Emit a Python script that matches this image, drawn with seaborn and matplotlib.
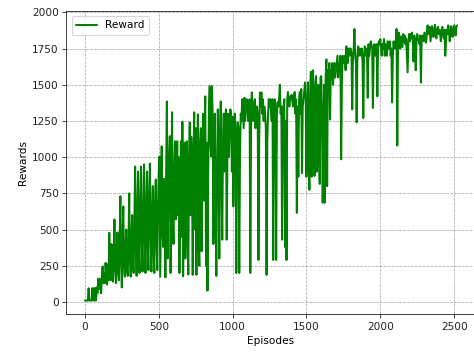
import matplotlib
matplotlib.use("Agg")
import matplotlib.pyplot as plt
import seaborn as sns
import pandas as pd

# Rewards, one value every 5 episodes (0 .. 2520)
rewards_0000 = [10, 10, 10, 10, 10, 95, 10, 10, 10, 10, 95, 10, 95, 10, 95, 10, 100, 60, 160, 90]
rewards_0100 = [160, 100, 60, 180, 245, 130, 200, 130, 270, 180, 120, 260, 150, 478, 200, 150, 400, 250, 140, 300]
rewards_0200 = [570, 250, 130, 350, 480, 200, 150, 400, 730, 300, 100, 450, 660, 250, 175, 380, 500, 220, 180, 420]
rewards_0300 = [750, 300, 175, 450, 600, 250, 200, 550, 935, 400, 180, 650, 900, 350, 200, 700, 935, 450, 210, 600]
rewards_0400 = [950, 500, 200, 650, 900, 400, 220, 750, 955, 500, 210, 600, 800, 350, 200, 700, 845, 400, 220, 650]
rewards_0500 = [900, 1004, 175, 600, 1075, 500, 380, 850, 600, 170, 900, 1385, 300, 700, 1000, 1145, 200, 800, 1310, 600]
rewards_0600 = [400, 900, 1110, 570, 800, 1110, 600, 1000, 200, 700, 1110, 450, 1245, 178, 900, 1100, 300, 800, 1110, 500]
rewards_0700 = [190, 1000, 1240, 600, 1140, 900, 187, 1000, 1310, 500, 1200, 187, 900, 1295, 400, 250, 1100, 1200, 350, 900]
rewards_0800 = [1300, 700, 1200, 1420, 250, 1100, 78, 900, 1350, 1490, 1100, 1005, 1490, 1300, 400, 1000, 1300, 600, 180, 900]
rewards_0900 = [1330, 1000, 300, 1200, 1385, 800, 430, 1100, 1300, 900, 1250, 1330, 430, 1000, 1300, 1000, 1200, 1330, 1280, 900]
rewards_1000 = [1280, 660, 1100, 1300, 1200, 200, 1100, 1240, 1200, 200, 1000, 1300, 1250, 1400, 1300, 1200, 1410, 1250, 1350, 1400]
rewards_1100 = [1350, 1250, 1300, 1400, 200, 1200, 1447, 1300, 1250, 1350, 1400, 1200, 1300, 1350, 1300, 290, 1100, 1447, 1350, 1447]
rewards_1200 = [1300, 1400, 1250, 1350, 1300, 1200, 187, 1100, 1300, 1400, 1350, 1400, 1300, 1250, 1400, 290, 1200, 1400, 1350, 290]
rewards_1300 = [1300, 1380, 1350, 1400, 1500, 1300, 1350, 430, 1200, 1350, 1400, 380, 1250, 290, 1400, 1450, 1380, 1350, 1420, 1400]
rewards_1400 = [1430, 1380, 1350, 1400, 1450, 1300, 1400, 615, 1350, 865, 1400, 1450, 1300, 1470, 890, 1350, 1400, 1450, 1515, 1400]
rewards_1500 = [865, 1300, 1517, 1000, 775, 1450, 1590, 865, 1400, 1600, 1100, 870, 1500, 1560, 900, 1400, 1500, 1000, 815, 1550]
rewards_1600 = [1560, 1300, 685, 1200, 1500, 685, 1550, 1675, 800, 1600, 1450, 1650, 1260, 1600, 1550, 1650, 1500, 1600, 1650, 1550]
rewards_1700 = [1600, 1650, 1700, 1550, 1650, 1600, 1700, 985, 1500, 1700, 1650, 1675, 1700, 1600, 1765, 1700, 1650, 1750, 1700, 1750]
rewards_1800 = [1750, 1700, 1330, 1700, 1750, 1885, 1700, 1650, 1240, 1700, 1765, 1700, 1750, 1720, 1700, 1750, 1650, 1270, 1700, 1765]
rewards_1900 = [1700, 1750, 1720, 1410, 1780, 1700, 1750, 1800, 1780, 1750, 1340, 1700, 1780, 1750, 1700, 1780, 1420, 1750, 1800, 1780]
rewards_2000 = [1815, 1750, 1700, 1780, 1750, 1815, 1700, 1780, 1750, 1700, 1800, 1750, 1760, 1800, 1700, 1750, 1378, 1700, 1800, 1750]
rewards_2100 = [1750, 1800, 1885, 1080, 1750, 1860, 1800, 1750, 1835, 1800, 1760, 1850, 1800, 1840, 1780, 1820, 1700, 1585, 1800, 1850]
rewards_2200 = [1800, 1850, 1820, 1860, 1800, 1660, 1840, 1800, 1600, 1800, 1850, 1820, 1800, 1780, 1840, 1515, 1800, 1840, 1820, 1800]
rewards_2300 = [1860, 1820, 1790, 1850, 1910, 1850, 1880, 1900, 1800, 1850, 1905, 1870, 1830, 1880, 1914, 1850, 1820, 1880, 1900, 1850]
rewards_2400 = [1880, 1850, 1800, 1880, 1900, 1850, 1820, 1880, 1700, 1800, 1880, 1850, 1910, 1880, 1800, 1850, 1905, 1880, 1830, 1870]
rewards_2500 = [1910, 1880, 1840, 1900, 1910]

rewards = (rewards_0000 + rewards_0100 + rewards_0200 + rewards_0300 + rewards_0400
           + rewards_0500 + rewards_0600 + rewards_0700 + rewards_0800 + rewards_0900
           + rewards_1000 + rewards_1100 + rewards_1200 + rewards_1300 + rewards_1400
           + rewards_1500 + rewards_1600 + rewards_1700 + rewards_1800 + rewards_1900
           + rewards_2000 + rewards_2100 + rewards_2200 + rewards_2300 + rewards_2400
           + rewards_2500)
episodes = list(range(0, 5 * len(rewards), 5))

df = pd.DataFrame({"Episodes": episodes, "Rewards": rewards})

sns.set_style("ticks")
plt.rcParams['font.family'] = ['DejaVu Sans']
plt.rcParams['axes.edgecolor'] = '#222222'
plt.rcParams['text.color'] = 'black'
plt.rcParams['axes.labelcolor'] = 'black'
plt.rcParams['xtick.color'] = '#222222'
plt.rcParams['ytick.color'] = '#222222'

DPI = 76
fig = plt.figure(figsize=(474 / DPI, 352 / DPI), dpi=DPI)
ax = fig.add_axes([66.3 / 474, 1 - 314.3 / 352, 409.4 / 474, 303.3 / 352])

sns.lineplot(data=df, x="Episodes", y="Rewards", ax=ax, color="green",
             linewidth=1.9, estimator=None, label="Reward")

ax.grid(True, linestyle="--", color="gray", linewidth=0.7, alpha=0.7)
ax.set_xticks([0, 500, 1000, 1500, 2000, 2500])
ax.set_yticks([0, 250, 500, 750, 1000, 1250, 1500, 1750, 2000])
ax.set_xlabel("Episodes")
ax.set_ylabel("Rewards")
ax.legend(loc="upper left")

fig.savefig("out.png", dpi=DPI)
